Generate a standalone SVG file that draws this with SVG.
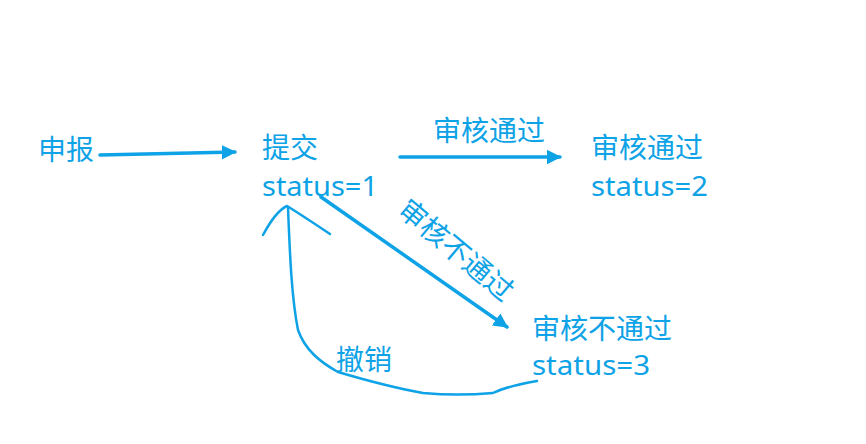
<svg xmlns="http://www.w3.org/2000/svg" width="866" height="444" viewBox="0 0 866 444">
<style>
text{font-family:"Microsoft YaHei","Noto Sans CJK SC","Noto Sans",sans-serif;fill:#0ea2e6;font-size:28px}
text.st{font-family:"Noto Sans","Open Sans",sans-serif;font-size:27px}
.ln{stroke:#0ea2e6;stroke-width:3.5;fill:none;stroke-linecap:round}
.hand{stroke:#0ea2e6;stroke-width:2.5;fill:none;stroke-linecap:round;stroke-linejoin:round}
</style>
<defs>
<marker id="ah" viewBox="0 0 10 10" refX="9" refY="5" markerWidth="4.2" markerHeight="4.2" orient="auto" markerUnits="strokeWidth">
<path d="M0,0 L10,5 L0,10 z" fill="#0ea2e6"/>
</marker>
</defs>
<rect width="866" height="444" fill="#ffffff"/>
<g id="n-shenbao"><text x="38" y="160">申报</text></g>
<g id="n-tijiao"><text x="262" y="158">提交</text><text class="st" x="262" y="196" textLength="116" lengthAdjust="spacingAndGlyphs">status=1</text></g>
<g id="n-pass"><text x="591" y="158">审核通过</text><text class="st" x="591" y="196" textLength="117" lengthAdjust="spacingAndGlyphs">status=2</text></g>
<g id="n-fail"><text x="532" y="339">审核不通过</text><text class="st" x="532" y="375" textLength="118" lengthAdjust="spacingAndGlyphs">status=3</text></g>
<g id="connectors">
<path class="ln" d="M100,155 L235,152" marker-end="url(#ah)"/>
<path class="ln" d="M400,157 L560,157" marker-end="url(#ah)"/>
<path class="ln" d="M321,197 L507,327" marker-end="url(#ah)"/>
<path class="hand" d="M537,381 C520,384 505,387 493,393 C470,395 445,395 423,393 C395,388 365,380 338,372 C320,362 305,350 298,330 C292,300 290,260 288,207"/>
<path class="hand" d="M263,235 C270,222 278,210 287,206 C300,214 315,224 330,234"/>
</g>
<g id="labels">
<text x="433" y="141">审核通过</text>
<text transform="translate(456,250) rotate(40)" text-anchor="middle" y="10">审核不通过</text>
<text x="336" y="370">撤销</text>
</g>
</svg>
